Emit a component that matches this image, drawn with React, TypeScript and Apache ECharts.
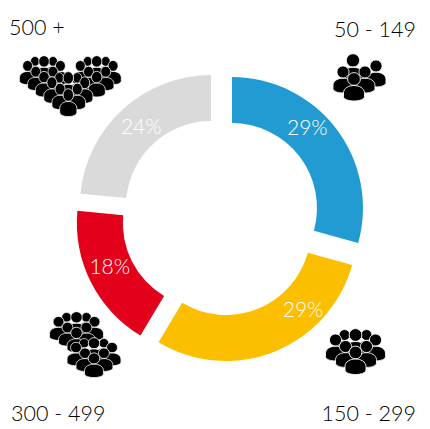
import React, { useEffect, useRef } from "react";
import * as echarts from "echarts";

const categories = ["50 - 149", "150 - 299", "300 - 499", "500 +"];
const shares = [29.3, 29.3, 17.9, 23.5];
const colors = ["#229bd2", "#fcbf00", "#e2001a", "#dadada"];
const labelOffsets = [[-13, -14], [36, -25], [1, -8], [5, 1]];
const categoryTextPositions = [[416, 29, "right"], [416, 413, "right"], [11, 413, "left"], [9, 27, "left"]];
const FONT = "Lato, 'Open Sans', sans-serif";

echarts.graphic.registerShape(
  "person",
  echarts.graphic.extendPath(
    "M-6.4 0A6.4 6.4 0 1 0 6.4 0A6.4 6.4 0 1 0 -6.4 0ZM-10.5 17.5L-10.5 14C-10.5 9 -5 6.5 0 6.5C5 6.5 10.5 9 10.5 14L10.5 17.5C10.5 20.5 5 22 0 22C-5 22 -10.5 20.5 -10.5 17.5Z",
    {}
  )
);

const crowd = [
  [-11, 6, 0.85], [11, 6, 0.85], [-20, 11, 0.95], [20, 11, 0.95], [0, 6, 1],
  [-10, 17.5, 0.95], [11, 17.5, 0.95], [0, 23.5, 1],
];
const smallCrowd = [
  [-1, 6.4, 1.05], [22, 12, 0.95], [-11, 18, 0.95], [11, 18, 0.95], [0, 25, 1],
];

function group(x: number, y: number, sx: number, sy: number, people: number[][]) {
  return {
    type: "group", x, y, scaleX: sx, scaleY: sy, z: 20,
    children: people.map(([px, py, s]) => ({
      type: "person", x: px, y: py, scaleX: s, scaleY: s,
      style: { fill: "#000", stroke: "#fff", lineWidth: 0.9 },
    })),
  };
}

export default function App() {
  const ref = useRef<HTMLDivElement>(null);
  useEffect(() => {
    document.body.style.margin = "0";
    const chart = echarts.init(ref.current!, undefined, { renderer: "svg" });
    chart.setOption({
      animation: false,
      backgroundColor: "#fff",
      series: [{
        type: "pie",
        center: [220.6, 216.7],
        radius: [85, 131],
        startAngle: 90,
        clockwise: true,
        selectedMode: "multiple",
        selectedOffset: 14.3,
        percentPrecision: 0,
        labelLine: { show: false },
        labelLayout: (p: any) => ({ dx: labelOffsets[p.dataIndex][0], dy: labelOffsets[p.dataIndex][1] }),
        data: categories.map((name, i) => ({
          name,
          value: shares[i],
          selected: true,
          itemStyle: { color: colors[i] },
          select: { itemStyle: { color: colors[i] } },
          label: {
            show: true,
            position: "inside",
            formatter: "{d}%",
            color: "#fff",
            fontSize: 21,
            fontWeight: 300,
            fontFamily: FONT,
          },
        })),
      }],
      graphic: [
        ...categories.map((name, i) => ({
          type: "text",
          x: categoryTextPositions[i][0],
          y: categoryTextPositions[i][1],
          style: {
            text: name, fill: "#000", fontSize: 21.5, fontWeight: 300, fontFamily: FONT,
            align: categoryTextPositions[i][2], verticalAlign: "middle",
          },
        })),
        group(355.5, 329, 1, 1, crowd),
        group(354, 54, 1, 1, smallCrowd),
        group(44, 56, 0.82, 0.9, crowd),
        group(96.7, 56, 0.82, 0.9, crowd),
        group(68.3, 72, 0.82, 0.98, crowd),
        group(76.5, 312, 0.9, 0.89, crowd),
        group(94, 338, 0.9, 0.87, crowd),
      ],
    });
    return () => chart.dispose();
  }, []);
  return <div ref={ref} style={{ position: "absolute", left: 0, top: 0, width: 430, height: 429 }} />;
}
